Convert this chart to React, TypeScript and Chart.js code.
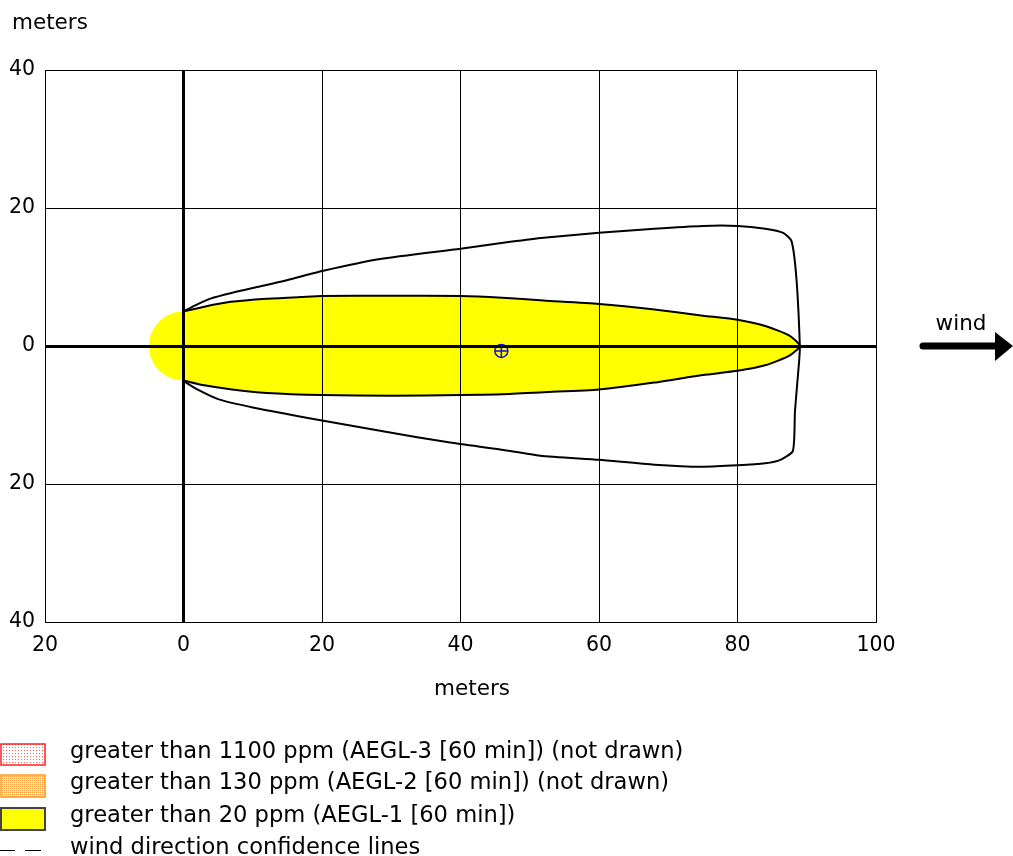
import React, { useEffect, useRef } from 'react';
import { Chart, registerables } from 'chart.js';

Chart.register(...registerables);

// Axis ranges / ticks (meters)
const xMin = -20;
const xMax = 100;
const xStep = 20;
const yMin = -40;
const yMax = 40;
const yStep = 20;

// Rounded source end of the AEGL-1 zone (upstream cap)
const capX = [-5, -4.8, -4.3, -3.5, -2.5, -1.3, 0];
const capY = [0, 1.5, 2.6, 3.6, 4.35, 4.85, 5.0];

// AEGL-1 (>20 ppm) zone, upper edge (downwind)
const plumeUpperX = [0, 3, 6.8, 12, 17, 20, 30, 40, 46, 52, 60, 68, 75, 80, 84, 87.5, 89];
const plumeUpperY = [5.0, 5.7, 6.4, 6.85, 7.1, 7.25, 7.3, 7.25, 7.0, 6.6, 6.1, 5.3, 4.4, 3.8, 2.9, 1.5, 0];
// AEGL-1 zone, lower edge
const plumeLowerX = [0, 3, 7, 12, 20, 30, 40, 46, 52, 60, 68, 75, 80, 84, 87.5, 89];
const plumeLowerY = [-5.0, -5.7, -6.3, -6.8, -7.1, -7.2, -7.1, -7.0, -6.7, -6.3, -5.3, -4.2, -3.6, -2.8, -1.4, 0];

// Wind direction confidence lines
const confUpperX = [0, 1.7, 4, 7, 10, 14, 20.2, 28.4, 40, 47.2, 52, 60, 68, 75, 80, 84, 86.6, 87.8, 88.5, 89];
const confUpperY = [5.0, 5.9, 6.9, 7.7, 8.4, 9.3, 10.9, 12.6, 14.1, 15.1, 15.7, 16.4, 17.0, 17.4, 17.4, 17.0, 16.4, 15.2, 9.9, 0];
const confLowerX = [0, 2, 5, 10, 20, 29, 38.5, 45.7, 51.5, 60, 68, 75, 80, 84, 86.2, 88, 88.3, 88.9, 89];
const confLowerY = [-5.07, -6.3, -7.7, -8.9, -10.8, -12.4, -14.0, -15.0, -15.9, -16.5, -17.2, -17.5, -17.3, -17.0, -16.5, -15.2, -9.4, -2.2, 0];

// Marker location
const markerX = [45.9];
const markerY = [-0.72];

// Text
const axisTitle = 'meters';
const windLabel = 'wind';
const legendLabels = [
  'greater than 1100 ppm (AEGL-3 [60 min]) (not drawn)',
  'greater than 130 ppm (AEGL-2 [60 min]) (not drawn)',
  'greater than 20 ppm (AEGL-1 [60 min])',
  'wind direction confidence lines',
];

const FONT = '"DejaVu Sans", Verdana, sans-serif';

const zip = (xs: number[], ys: number[]) => xs.map((x, i) => ({ x, y: ys[i] }));

function makePattern(ctx: CanvasRenderingContext2D, dot: string, bg: string, size: number) {
  const c = document.createElement('canvas');
  c.width = size;
  c.height = size;
  const g = c.getContext('2d')!;
  g.fillStyle = bg;
  g.fillRect(0, 0, size, size);
  g.fillStyle = dot;
  g.fillRect(0, 0, 1, 1);
  return ctx.createPattern(c, 'repeat');
}

const overlayPlugin = {
  id: 'overlay',
  afterDraw(chart: any) {
    const ctx: CanvasRenderingContext2D = chart.ctx;
    ctx.save();
    ctx.fillStyle = '#000';
    ctx.font = `21.5px ${FONT}`;
    ctx.textBaseline = 'middle';
    ctx.textAlign = 'left';
    // axis titles
    ctx.fillText(axisTitle, 12, 23);
    ctx.textAlign = 'center';
    ctx.fillText(axisTitle, 472, 689);
    // wind label + arrow
    ctx.fillText(windLabel, 961, 324);
    ctx.strokeStyle = '#000';
    ctx.lineWidth = 7;
    ctx.lineCap = 'round';
    ctx.beginPath();
    ctx.moveTo(923, 346);
    ctx.lineTo(998, 346);
    ctx.stroke();
    ctx.beginPath();
    ctx.moveTo(995, 332);
    ctx.lineTo(1013, 346);
    ctx.lineTo(995, 361);
    ctx.closePath();
    ctx.fillStyle = '#000';
    ctx.fill();

    // legend
    const rows = [752, 783, 816, 848];
    ctx.font = `22.6px ${FONT}`;
    ctx.textAlign = 'left';
    ctx.fillStyle = '#000';
    legendLabels.forEach((t, i) => ctx.fillText(t, 70, rows[i]));

    ctx.lineCap = 'butt';
    // AEGL-3 swatch
    ctx.fillStyle = makePattern(ctx, '#ff6060', '#ffffff', 3) || '#ffe0e0';
    ctx.fillRect(1, 744, 44, 21);
    ctx.strokeStyle = '#ff2020';
    ctx.lineWidth = 1.5;
    ctx.strokeRect(1, 744, 44, 21);
    // AEGL-2 swatch
    ctx.fillStyle = makePattern(ctx, '#ffa040', '#ffe6c8', 2) || '#ffd8a8';
    ctx.fillRect(1, 775, 44, 22);
    ctx.strokeStyle = '#ff9a20';
    ctx.strokeRect(1, 775, 44, 22);
    // AEGL-1 swatch
    ctx.fillStyle = '#ffff00';
    ctx.fillRect(1, 808, 44, 22);
    ctx.strokeStyle = '#444';
    ctx.lineWidth = 2;
    ctx.strokeRect(1, 808, 44, 22);
    // dashed line
    ctx.strokeStyle = '#000';
    ctx.lineWidth = 1;
    ctx.beginPath();
    ctx.moveTo(0, 850.5);
    ctx.lineTo(15, 850.5);
    ctx.moveTo(25, 850.5);
    ctx.lineTo(41, 850.5);
    ctx.stroke();
    ctx.restore();
  },
};

export default function App() {
  const ref = useRef<HTMLCanvasElement>(null);

  useEffect(() => {
    document.body.style.margin = '0';
    const canvas = ref.current!;

    const capTop = zip(capX, capY);
    const capBottom = zip(capX, capY.map((v) => -v)).reverse();
    const upper = zip(plumeUpperX, plumeUpperY);
    const lower = zip(plumeLowerX, plumeLowerY);
    const plumePolygon = [...capTop, ...upper.slice(1), ...lower.slice(0, -1).reverse(), ...capBottom.slice(1)];
    const plumeOutline = [...upper, ...lower.slice(0, -1).reverse()];
    const confidence = [...zip(confUpperX, confUpperY), ...zip(confLowerX, confLowerY).slice(0, -1).reverse()];
    const marker = zip(markerX, markerY);

    const gridWidth = (c: any) => (c.tick && c.tick.value === 0 ? 3 : 1);

    const chart = new Chart(canvas, {
      type: 'scatter',
      data: {
        datasets: [
          {
            label: 'AEGL-1',
            data: plumePolygon,
            showLine: true,
            fill: 'shape',
            backgroundColor: '#ffff00',
            borderWidth: 0,
            borderColor: 'rgba(0,0,0,0)',
            pointRadius: 0,
            order: 10,
          } as any,
          {
            label: 'AEGL-1 outline',
            data: plumeOutline,
            showLine: true,
            fill: false,
            borderColor: '#000',
            borderWidth: 2,
            tension: 0.2,
            pointRadius: 0,
            order: 5,
          },
          {
            label: 'confidence',
            data: confidence,
            showLine: true,
            fill: false,
            borderColor: '#000',
            borderWidth: 2,
            tension: 0.2,
            pointRadius: 0,
            order: 4,
          },
          {
            label: 'marker circle',
            data: marker,
            pointStyle: 'circle',
            pointRadius: 6.5,
            pointBorderWidth: 1.5,
            pointBorderColor: '#1010e0',
            pointBackgroundColor: 'rgba(0,0,0,0)',
            order: 1,
          },
          {
            label: 'marker cross',
            data: marker,
            pointStyle: 'cross',
            pointRadius: 6.5,
            pointBorderWidth: 1.5,
            pointBorderColor: '#1010e0',
            order: 0,
          },
        ],
      },
      options: {
        responsive: false,
        animation: false,
        events: [],
        layout: { padding: { left: 0, top: 70, right: 137, bottom: 194 } },
        plugins: {
          legend: { display: false },
          tooltip: { enabled: false },
        },
        scales: {
          x: {
            type: 'linear',
            min: xMin,
            max: xMax,
            afterFit: (s: any) => {
              s.height = 40;
            },
            ticks: {
              stepSize: xStep,
              padding: 11,
              color: '#000',
              font: { family: FONT, size: 20.5 },
              callback: (v: any) => String(Math.abs(Number(v))),
            },
            grid: { color: '#000', lineWidth: gridWidth, drawTicks: false, z: 1 } as any,
            border: { display: true, color: '#000', width: 1, z: 1 } as any,
          },
          y: {
            type: 'linear',
            min: yMin,
            max: yMax,
            afterFit: (s: any) => {
              s.width = 45;
            },
            ticks: {
              stepSize: yStep,
              padding: 10,
              color: '#000',
              font: { family: FONT, size: 20.5 },
              callback: (v: any) => String(Math.abs(Number(v))),
            },
            grid: { color: '#000', lineWidth: gridWidth, drawTicks: false, z: 1 } as any,
            border: { display: true, color: '#000', width: 1, z: 1 } as any,
          },
        },
      },
      plugins: [overlayPlugin],
    });

    return () => chart.destroy();
  }, []);

  return <canvas ref={ref} width={1013} height={856} style={{ display: 'block' }} />;
}
